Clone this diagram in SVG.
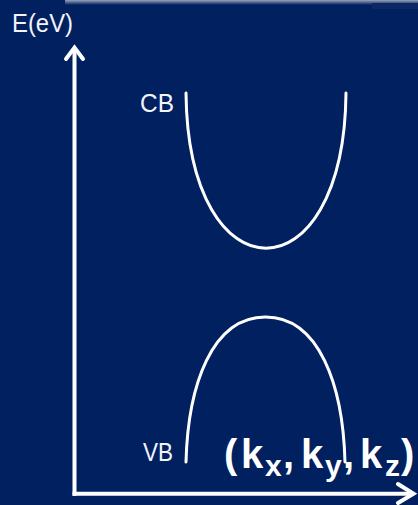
<svg xmlns="http://www.w3.org/2000/svg" width="418" height="505" viewBox="0 0 418 505">
  <defs>
    <linearGradient id="topfade" x1="0" y1="0" x2="0" y2="1">
      <stop offset="0" stop-color="#9aa3b8"/>
      <stop offset="1" stop-color="#002060"/>
    </linearGradient>
  </defs>
  <style>
    .lbl { font-family: "Liberation Sans", "DejaVu Sans", sans-serif; fill: #f2f4f8; font-size: 25px; }
    .k { font-family: "Liberation Sans", "DejaVu Sans", sans-serif; fill: #ffffff; font-weight: bold; }
    .axis { stroke: #ffffff; stroke-width: 4; fill: none; }
    .band { stroke: #ffffff; stroke-width: 3; fill: none; stroke-linecap: round; }
  </style>
  <rect x="0" y="0" width="418" height="505" fill="#002060"/>
  <rect x="65" y="0" width="353" height="5" fill="url(#topfade)"/>
  <rect x="372" y="3" width="46" height="6" fill="#0a2766"/>

  <g id="connectors">
    <line class="axis" x1="74.5" y1="49" x2="74.5" y2="495.7"/>
    <polyline class="axis" points="66,59 74.5,47.5 83,59" stroke-linejoin="miter" stroke-linecap="round"/>
    <line class="axis" x1="72.5" y1="493.7" x2="413" y2="493.7"/>
    <polyline class="axis" points="398,484 413.5,493.7 398,503" stroke-linejoin="miter" stroke-linecap="round"/>
  </g>

  <g id="axis-labels">
    <text class="lbl" x="12" y="31.5" textLength="61" lengthAdjust="spacingAndGlyphs">E(eV)</text>
  </g>

  <g id="cb">
    <path class="band" d="M186,93 C188,300 344,300 346,93"/>
    <text class="lbl" x="140" y="111.5" textLength="34" lengthAdjust="spacingAndGlyphs">CB</text>
  </g>

  <g id="vb">
    <path class="band" d="M186,462 C188,385 212,317 265.5,317 C319,317 343,385 345,462"/>
    <text class="lbl" x="143" y="461" textLength="30" lengthAdjust="spacingAndGlyphs">VB</text>
  </g>

  <g id="k-label">
    <text class="k">
      <tspan x="224" y="468" font-size="40">(</tspan><tspan x="241" y="468" font-size="40">k</tspan><tspan x="265" y="476" font-size="30">x</tspan><tspan x="283" y="468" font-size="40">,</tspan><tspan x="301" y="468" font-size="40">k</tspan><tspan x="325" y="476" font-size="30">y</tspan><tspan x="343" y="468" font-size="40">,</tspan><tspan x="360" y="468" font-size="40">k</tspan><tspan x="385" y="476" font-size="30">z</tspan><tspan x="401" y="468" font-size="40">)</tspan>
    </text>
  </g>
</svg>
